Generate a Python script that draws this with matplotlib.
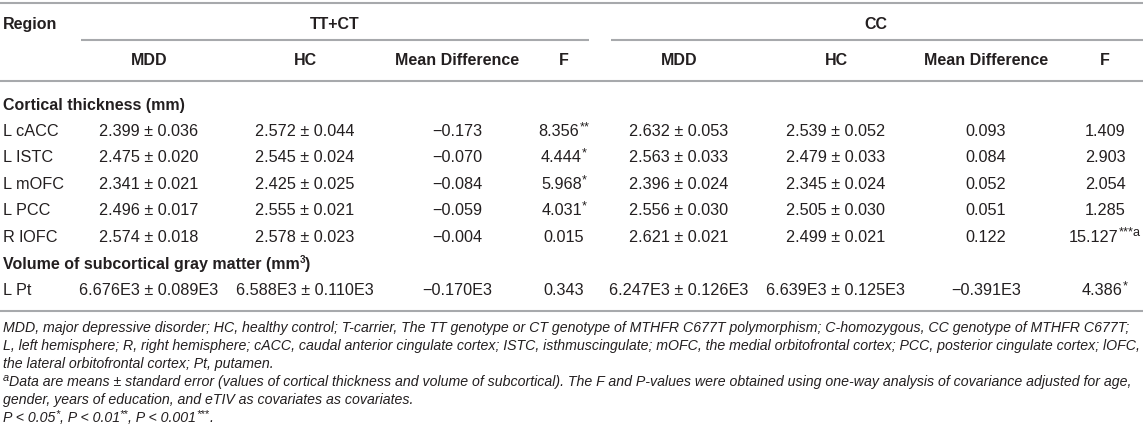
import matplotlib
matplotlib.use("Agg")
import matplotlib.pyplot as plt

# ---------------- data ----------------
regions = ["L cACC", "L ISTC", "L mOFC", "L PCC", "R lOFC", "L Pt"]
tt_mdd = ["2.399 ± 0.036", "2.475 ± 0.020", "2.341 ± 0.021", "2.496 ± 0.017", "2.574 ± 0.018", "6.676E3 ± 0.089E3"]
tt_hc = ["2.572 ± 0.044", "2.545 ± 0.024", "2.425 ± 0.025", "2.555 ± 0.021", "2.578 ± 0.023", "6.588E3 ± 0.110E3"]
tt_diff = ["−0.173", "−0.070", "−0.084", "−0.059", "−0.004", "−0.170E3"]
tt_f = ["8.356", "4.444", "5.968", "4.031", "0.015", "0.343"]
tt_sig = ["**", "*", "*", "*", "", ""]
cc_mdd = ["2.632 ± 0.053", "2.563 ± 0.033", "2.396 ± 0.024", "2.556 ± 0.030", "2.621 ± 0.021", "6.247E3 ± 0.126E3"]
cc_hc = ["2.539 ± 0.052", "2.479 ± 0.033", "2.345 ± 0.024", "2.505 ± 0.030", "2.499 ± 0.021", "6.639E3 ± 0.125E3"]
cc_diff = ["0.093", "0.084", "0.052", "0.051", "0.122", "−0.391E3"]
cc_f = ["1.409", "2.903", "2.054", "1.285", "15.127", "4.386"]
cc_sig = ["", "", "", "", "***a", "*"]

groups = ["TT+CT", "CC"]
sub_headers = ["MDD", "HC", "Mean Difference", "F"]
section_titles = [[("Cortical thickness (mm)", False)],
                  [("Volume of subcortical gray matter (mm", False), ("3", True), (")", False)]]

footnotes = [
    [("MDD, major depressive disorder; HC, healthy control; T-carrier, The TT genotype or CT genotype of MTHFR C677T polymorphism; C-homozygous, CC genotype of MTHFR C677T;", False)],
    [("L, left hemisphere; R, right hemisphere; cACC, caudal anterior cingulate cortex; ISTC, isthmuscingulate; mOFC, the medial orbitofrontal cortex; PCC, posterior cingulate cortex; lOFC,", False)],
    [("the lateral orbitofrontal cortex; Pt, putamen.", False)],
    [("a", True), ("Data are means ± standard error (values of cortical thickness and volume of subcortical). The F and P-values were obtained using one-way analysis of covariance adjusted for age,", False)],
    [("gender, years of education, and eTIV as covariates as covariates.", False)],
    [("P < 0.05", False), ("*", True), (", P < 0.01", False), ("**", True), (", P < 0.001", False), ("***", True), (".", False)],
]

# ---------------- style ----------------
plt.rcParams["font.family"] = ["Liberation Sans", "DejaVu Sans"]

W, H = 1143, 437
fig = plt.figure(figsize=(W / 100, H / 100), dpi=100)
ax = fig.add_axes([0, 0, 1, 1])
ax.set_xlim(0, W)
ax.set_ylim(H, 0)
ax.axis("off")
fig.canvas.draw()
R = fig.canvas.get_renderer()

body_fs = 11.7
head_fs = 11.5
txt_col = "#231f20"
line_col = "#a7a9ac"
lw = 1.5


def width(s, **kw):
    t = ax.text(0, 0, s, **kw)
    w = t.get_window_extent(R).width
    t.remove()
    return w


def draw_runs(x, y, runs, fs, ha="left", sup_scale=0.72, **kw):
    """Draw a sequence of (text, is_superscript) runs on one baseline."""
    sup_fs = fs * sup_scale
    widths = [width(s, fontsize=(sup_fs if sup else fs), **kw) for s, sup in runs]
    total = sum(widths)
    if ha == "center":
        x = x - total / 2
    elif ha == "right":
        x = x - total
    for (s, sup), w in zip(runs, widths):
        if sup:
            ax.text(x, y - fs * 0.5, s, fontsize=sup_fs, color=txt_col,
                    ha="left", va="baseline", **kw)
        else:
            ax.text(x, y, s, fontsize=fs, color=txt_col, ha="left", va="baseline", **kw)
        x += w


# layout (pixel positions)
col_x = [[149, 305, 457, 564], [679, 836, 986, 1105]]
group_x = [335, 876]
group_line = [(81, 589), (611, 1143)]
row_base = [136, 162, 189, 215, 242, 295]
section_base = [110, 269]

# lines
ax.hlines(3, 0, W, color=line_col, lw=lw)
for x0, x1 in group_line:
    ax.hlines(40, x0, x1, color=line_col, lw=lw)
ax.hlines(81, 0, W, color=line_col, lw=lw)
ax.hlines(311, 0, W, color=line_col, lw=lw)

# headers
ax.text(3, 29, "Region", fontsize=head_fs, fontweight="bold", color=txt_col, ha="left", va="baseline")
for gx, g in zip(group_x, groups):
    ax.text(gx, 29, g, fontsize=head_fs, fontweight="bold", color=txt_col, ha="center", va="baseline")
for cols in col_x:
    for cx, h in zip(cols, sub_headers):
        ax.text(cx, 65, h, fontsize=head_fs, fontweight="bold", color=txt_col, ha="center", va="baseline")

for yb, runs in zip(section_base, section_titles):
    draw_runs(3, yb, runs, head_fs, fontweight="bold", sup_scale=0.62)

for i, reg in enumerate(regions):
    yb = row_base[i]
    ax.text(3, yb, reg, fontsize=body_fs, color=txt_col, ha="left", va="baseline")
    vals = [[tt_mdd[i], tt_hc[i], tt_diff[i]], [cc_mdd[i], cc_hc[i], cc_diff[i]]]
    fvals = [(tt_f[i], tt_sig[i]), (cc_f[i], cc_sig[i])]
    for cols, vv, (fv, sg) in zip(col_x, vals, fvals):
        for cx, v in zip(cols[:3], vv):
            ax.text(cx, yb, v, fontsize=body_fs, color=txt_col, ha="center", va="baseline")
        runs = [(fv, False)] + ([(sg, True)] if sg else [])
        draw_runs(cols[3], yb, runs, body_fs, ha="center", sup_scale=0.78)

# footnotes: fit the longest line to the reference span
foot_base = [332, 350, 368, 386, 404, 422]
longest = max(sum(width(s, fontsize=10, style="italic") for s, _ in runs) for runs in footnotes[:2])
foot_fs = 10 * (1137 / longest)
for yb, runs in zip(foot_base, footnotes):
    draw_runs(3, yb, runs, foot_fs, style="italic", sup_scale=0.78)

fig.savefig("out.png", dpi=100)
